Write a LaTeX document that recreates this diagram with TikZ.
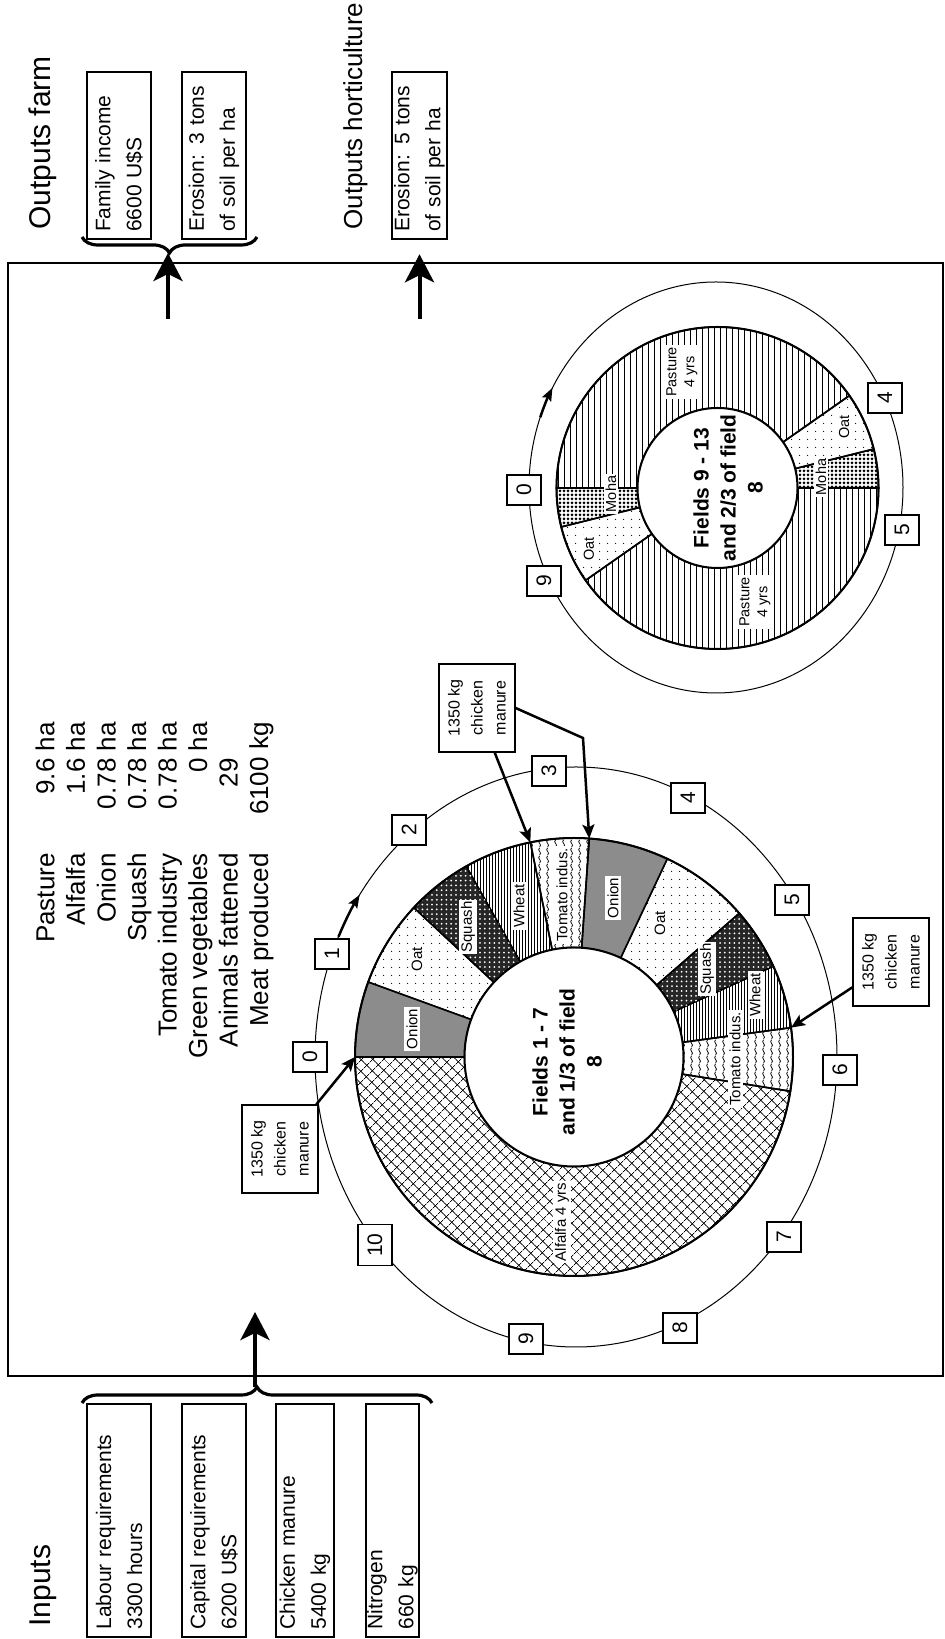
\documentclass[tikz,border=0pt]{standalone}
\usepackage{fontspec}
\setmainfont{Liberation Sans}
\usetikzlibrary{arrows.meta,calc,patterns,patterns.meta,decorations.pathreplacing}

% wavy fill for the tomato fields
\pgfdeclarepatternformonly{waves}{\pgfqpoint{0pt}{0pt}}{\pgfqpoint{4pt}{4pt}}{\pgfqpoint{4pt}{4pt}}{%
  \pgfsetlinewidth{0.4pt}%
  \pgfpathmoveto{\pgfqpoint{2pt}{0pt}}%
  \pgfpathcurveto{\pgfqpoint{3.8pt}{1.3pt}}{\pgfqpoint{0.2pt}{2.7pt}}{\pgfqpoint{2pt}{4pt}}%
  \pgfusepath{stroke}}

\tikzset{
  iobox/.style={draw,line width=1.25pt,rotate=90,inner sep=0pt,align=left,
    font=\fontsize{10.5}{15.5}\selectfont},
  heading/.style={rotate=90,inner sep=0pt,anchor=base west,font=\fontsize{15}{18}\selectfont},
  legtext/.style={rotate=90,inner sep=0pt,anchor=base east,font=\fontsize{13}{15}\selectfont},
  numbox/.style={draw,fill=white,line width=0.75pt,rotate=90,inner sep=0pt,
    minimum width=15pt,minimum height=17pt,font=\fontsize{10.5}{12}\selectfont},
  croplab/.style={fill=white,rotate=90,inner sep=1pt,align=center,font=\fontsize{7.5}{9}\selectfont},
  fieldtxt/.style={rotate=90,align=center,inner sep=0pt,font=\bfseries\fontsize{10.5}{13.5}\selectfont},
  manurebox/.style={draw,fill=white,line width=0.6pt,rotate=90,inner sep=0pt,align=center,
    minimum width=44pt,minimum height=38pt,font=\fontsize{8}{11.5}\selectfont},
  flowarrow/.style={line width=2pt,-{Stealth[length=14pt,width=14.5pt,inset=3.5pt]}},
  manurearrow/.style={line width=1.25pt,-{Stealth[length=7pt,width=6pt,inset=1.5pt]}},
  cyclearrow/.style={line width=1.25pt,-{Stealth[length=6.5pt,width=5pt,inset=1.2pt]}},
  bigbrace/.style={decorate,decoration={brace,amplitude=8pt},line width=1.6pt},
  alfalfa/.style={pattern={Hatch[angle=45,distance=4pt,line width=0.4pt]}},
  onion/.style={fill=black!45},
  oat/.style={pattern={Dots[distance=4pt,radius=0.35pt]}},
  squash/.style={fill=black!85,postaction={pattern={Dots[distance=2.4pt,radius=0.5pt]},pattern color=white}},
  wheat/.style={pattern={Lines[angle=90,distance=1.5pt,line width=0.5pt]}},
  tomato/.style={pattern=waves},
  pasture/.style={pattern={Lines[angle=90,distance=3pt,line width=0.45pt]}},
  moha/.style={pattern={Dots[distance=2pt,radius=0.75pt]}}
}

\begin{document}
\begin{tikzpicture}[x=0.5pt,y=0.5pt]
\useasboundingbox (0,0) rectangle (945,1639);

% the farm
\draw[line width=0.65pt] (8,263) rectangle (943,1376);

\coordinate (bigc) at (574,582);
\coordinate (bigell) at (576,582);
\coordinate (smallc) at (717.5,1151);
\coordinate (smallell) at (716,1151.5);

% inputs
\node[heading] (inputs) at (50,12) {Inputs};
\node[iobox,minimum width=116.5pt,minimum height=32pt,text width=109pt] (labour) at (119,118.5) {Labour requirements\\3300 hours};
\node[iobox,minimum width=116.5pt,minimum height=32pt,text width=109pt] (capital) at (214,118.5) {Capital requirements\\6200 U\$S};
\node[iobox,minimum width=116.5pt,minimum height=29pt,text width=109pt] (manure) at (305,118.5) {Chicken manure\\5400 kg};
\node[iobox,minimum width=116.5pt,minimum height=26.5pt,text width=109pt] (nitrogen) at (392.5,118.5) {Nitrogen\\660 kg};

\coordinate (inL) at (82,236);
\coordinate (inR) at (432,236);
\draw[bigbrace] (inL) -- (inR);
\coordinate (inFoot) at (255,252);
\coordinate (inHead) at (255,327);
\draw[flowarrow] (inFoot) -- (inHead);

% outputs
\node[heading] (outfarm) at (50,1409) {Outputs farm};
\node[heading,font=\fontsize{13}{16}\selectfont] (outhort) at (362,1409) {Outputs horticulture};
\node[iobox,minimum width=83.5pt,minimum height=32pt,text width=76.5pt] (income) at (119,1483.5) {Family income\\6600 U\$S};
\node[iobox,minimum width=83.5pt,minimum height=32pt,text width=76.5pt] (erosionfarm) at (214,1483.5) {Erosion: 3 tons\\of soil per ha};
\node[iobox,minimum width=83.5pt,minimum height=27.5pt,text width=76.5pt] (erosionhort) at (419.5,1483.5) {Erosion: 5 tons\\of soil per ha};

\coordinate (outR) at (257,1402);
\coordinate (outL) at (82,1402);
\draw[bigbrace] (outR) -- (outL);
\coordinate (farmFoot) at (168,1320);
\coordinate (farmHead) at (168,1386);
\draw[flowarrow] (farmFoot) -- (farmHead);
\coordinate (hortFoot) at (419.5,1320);
\draw[flowarrow,shorten >=7pt] (hortFoot) -- (erosionhort.west);

% land use
\foreach \lab/\val/\vy [count=\i] in {Pasture/9.6 ha/917,Alfalfa/1.6 ha/917,Onion/0.78 ha/917,Squash/0.78 ha/917,
    Tomato industry/0.78 ha/917,Green vegetables/0 ha/917,Animals fattened/29/881,Meat produced/6100 kg/917} {
  \node[legtext] (lab\i) at ({54.5+30.5*(\i-1)},786) {\lab};
  \node[legtext] (val\i) at ({54.5+30.5*(\i-1)},\vy) {\val};
}

% rotation fields 1 - 7
\draw[line width=0.5pt] (bigell) ellipse[x radius=261,y radius=290];
\draw[cyclearrow] ($(bigell)+(155.5:261 and 290)$) arc[start angle=155.5,end angle=146,x radius=261,y radius=290];
\foreach \n/\x/\y in {0/310/582,1/332/685,2/409/809,3/549/868,4/688/841,5/792/739,6/840/569,7/784/402,8/680/311,9/526/300}
  \node[numbox] (big\n) at (\x,\y) {\n};
\node[numbox,minimum width=20.5pt] (big10) at (375,394) {10};

\foreach \a/\b/\crop in {180/351/alfalfa,351/367.7/tomato,7.7/24.5/wheat,24.5/41/squash,41/64.8/oat,64.8/86/onion,
    86/101.5/tomato,101.5/119.5/wheat,119.5/137/squash,137/160/oat,160/180/onion}
  \draw[\crop,line width=0.8pt] ($(bigc)+(\a:109.5)$) arc[start angle=\a,end angle=\b,radius=109.5]
    -- ($(bigc)+(\b:219)$) arc[start angle=\b,end angle=\a,radius=219] -- cycle;
\draw[line width=1pt] (bigc) circle[radius=219];
\draw[line width=1pt,fill=white] (bigc) circle[radius=109.5];

\node[croplab] (onionL) at (412,610) {Onion};
\node[croplab] (oatL) at (417,680) {Oat};
\node[croplab] (squashL) at (468,712) {Squash};
\node[croplab] (wheatL) at (519,733) {Wheat};
\node[croplab] (tomatoL) at (562,744) {Tomato indus.};
\node[croplab] (onionR) at (613,741) {Onion};
\node[croplab] (oatR) at (660,716) {Oat};
\node[croplab] (squashR) at (707,670) {Squash};
\node[croplab] (wheatR) at (755,644) {Wheat};
\node[croplab] (tomatoR) at (735,580) {Tomato indus.};
\node[croplab] (alfalfaL) at (562,417) {Alfalfa 4 yrs};
\node[fieldtxt] (fieldsA) at (567,577) {Fields 1 - 7\\and 1/3 of field\\8};

% rotation fields 9 - 13
\draw[line width=0.5pt] (smallell) ellipse[x radius=187,y radius=205.5];
\draw[cyclearrow] ($(smallell)+(160:187 and 205.5)$) arc[start angle=160,end angle=151,x radius=187,y radius=205.5];
\foreach \n/\x/\y in {0/524/1149,9/544/1058,4/885/1241,5/902/1109}
  \node[numbox] (small\n) at (\x,\y) {\n};

\foreach \a/\b/\crop in {35/180/pasture,180/194/moha,194/215/oat,215/360/pasture,0/14/moha,14/35/oat}
  \draw[\crop,line width=0.8pt] ($(smallc)+(\a:80)$) arc[start angle=\a,end angle=\b,radius=80]
    -- ($(smallc)+(\b:161)$) arc[start angle=\b,end angle=\a,radius=161] -- cycle;
\draw[line width=1pt] (smallc) circle[radius=161];
\draw[line width=1pt,fill=white] (smallc) circle[radius=80];

\node[croplab,font=\fontsize{7.25}{9}\selectfont] (pastureT) at (682,1267) {Pasture\\4 yrs};
\node[croplab,font=\fontsize{7.25}{9}\selectfont] (pastureB) at (755,1037) {Pasture\\4 yrs};
\node[croplab,font=\fontsize{7.25}{9}\selectfont] (mohaL) at (611,1145) {Moha};
\node[croplab,font=\fontsize{7.25}{9}\selectfont] (oatSL) at (589,1090) {Oat};
\node[croplab,font=\fontsize{7.25}{9}\selectfont] (mohaR) at (821,1162) {Moha};
\node[croplab,font=\fontsize{7.25}{9}\selectfont] (oatSR) at (844,1212) {Oat};
\node[fieldtxt] (fieldsB) at (728,1151) {Fields 9 - 13\\and 2/3 of field\\8};

% chicken manure
\coordinate (mA1) at ($(bigc)+(101.5:219)$);
\coordinate (mA2) at ($(bigc)+(86:219)$);
\coordinate (mB) at ($(bigc)+(180:219)$);
\coordinate (mC) at ($(bigc)+(7.7:219)$);
\coordinate (bendA) at (583,901);
\node[manurebox] (manureA) at (477,931) {1350 kg\\chicken\\manure};
\node[manurebox] (manureB) at (280,490) {1350 kg\\chicken\\manure};
\node[manurebox] (manureC) at (891,677) {1350 kg\\chicken\\manure};
\draw[manurearrow] (manureA) -- (mA1);
\draw[manurearrow] (manureA.south) -- (bendA) -- (mA2);
\draw[manurearrow] (manureB) -- (mB);
\draw[manurearrow] (manureC) -- (mC);

\end{tikzpicture}
\end{document}
